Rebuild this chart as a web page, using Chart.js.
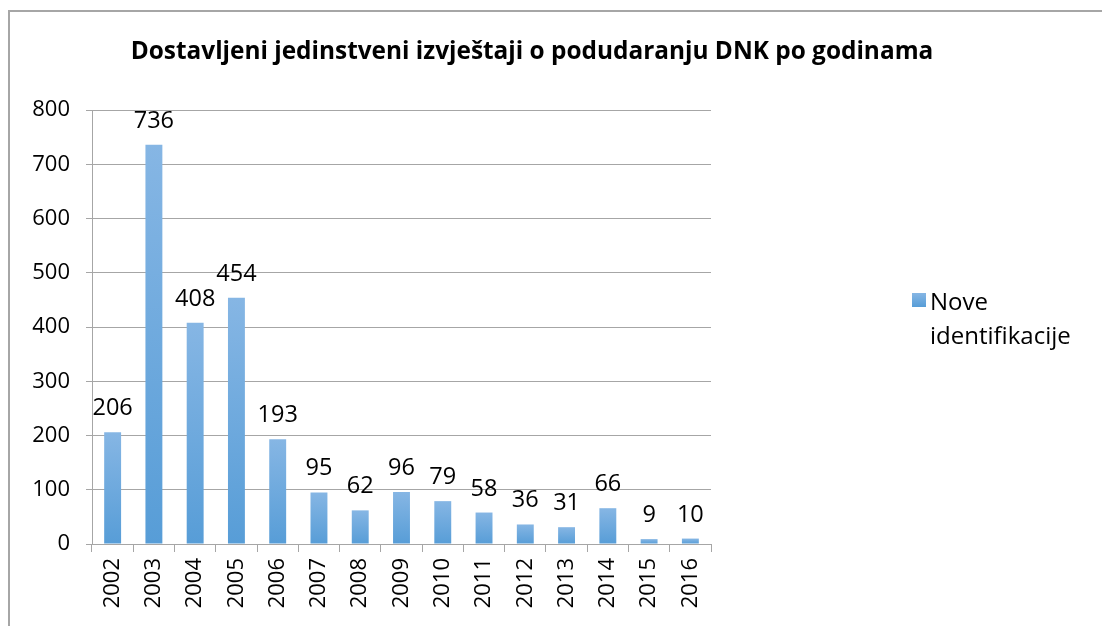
<!DOCTYPE html>
<html>
<head>
<meta charset="utf-8">
<script src="https://cdn.jsdelivr.net/npm/chart.js@4.4.1/dist/chart.umd.min.js"></script>
<style>
  html, body { margin: 0; padding: 0; background: #fff; }
  #wrap { position: relative; width: 1102px; height: 626px; }
</style>
</head>
<body>
<div id="wrap"><canvas id="grafikon" width="1102" height="626"></canvas></div>
<script>
const naslov = "Dostavljeni jedinstveni izvještaji o podudaranju DNK po godinama";
const godine = ["2002", "2003", "2004", "2005", "2006", "2007", "2008", "2009",
  "2010", "2011", "2012", "2013", "2014", "2015", "2016"];
const identifikacije = [206, 736, 408, 454, 193, 95, 62, 96, 79, 58, 36, 31, 66, 9, 10];
const nazivSerije = ["Nove", "identifikacije"];

const FONT = "'Open Sans', Lato, sans-serif";
const SIVA = "#a6a6a6";

function gradijent(ctx, gore, dolje) {
  const g = ctx.createLinearGradient(0, gore, 0, dolje);
  g.addColorStop(0, "#86b6e4");
  g.addColorStop(1, "#579dd7");
  return g;
}

// okvir, naslov, oznake vrijednosti i legenda
const crtanje = {
  id: "crtanje",
  beforeDraw(chart) {
    const ctx = chart.ctx;
    ctx.save();
    ctx.strokeStyle = SIVA;
    ctx.lineWidth = 2;
    ctx.beginPath();
    ctx.moveTo(9, 626);
    ctx.lineTo(9, 11);
    ctx.lineTo(1102, 11);
    ctx.stroke();
    ctx.restore();
  },
  afterDraw(chart) {
    const ctx = chart.ctx;
    ctx.save();
    ctx.fillStyle = "#000";
    ctx.font = "bold 24.4px " + FONT;
    ctx.textAlign = "center";
    ctx.textBaseline = "alphabetic";
    ctx.fillText(naslov, 532, 59);

    ctx.font = "23.5px " + FONT;
    const meta = chart.getDatasetMeta(0);
    meta.data.forEach((bar, i) => {
      ctx.fillText(String(identifikacije[i]), bar.x, bar.y - 17);
    });

    ctx.fillStyle = gradijent(ctx, 293, 307);
    ctx.fillRect(912, 293, 14, 14);
    ctx.fillStyle = "#000";
    ctx.textAlign = "left";
    ctx.font = "24px " + FONT;
    ctx.fillText(nazivSerije[0], 930, 310);
    ctx.fillText(nazivSerije[1], 930, 344);
    ctx.restore();
  }
};

new Chart(document.getElementById("grafikon"), {
  type: "bar",
  data: {
    labels: godine,
    datasets: [{
      label: nazivSerije.join(" "),
      data: identifikacije,
      backgroundColor(c) {
        const chart = c.chart;
        if (!chart.chartArea || !chart.scales.y) return "#6aa8dd";
        const y = chart.scales.y;
        const v = identifikacije[c.dataIndex] || 0;
        return gradijent(chart.ctx, y.getPixelForValue(v), y.getPixelForValue(0));
      },
      borderWidth: 0,
      categoryPercentage: 1,
      barPercentage: 0.41
    }]
  },
  options: {
    responsive: false,
    animation: false,
    layout: { padding: { top: 110, right: 391, left: 0, bottom: 0 } },
    plugins: {
      legend: { display: false },
      title: { display: false },
      tooltip: { enabled: false }
    },
    scales: {
      x: {
        offset: true,
        grid: {
          offset: true,
          drawOnChartArea: false,
          drawTicks: true,
          tickLength: 8,
          color: SIVA
        },
        border: { color: SIVA },
        ticks: {
          color: "#000",
          font: { family: FONT, size: 22 },
          minRotation: 90,
          maxRotation: 90,
          padding: 6,
          autoSkip: false
        },
        afterFit(scale) { scale.height = 82; }
      },
      y: {
        min: 0,
        max: 800,
        grid: { color: SIVA, tickLength: 6 },
        border: { color: SIVA },
        ticks: {
          stepSize: 100,
          color: "#000",
          font: { family: FONT, size: 22 },
          padding: 16
        },
        afterFit(scale) { scale.width = 92; }
      }
    }
  },
  plugins: [crtanje]
});
</script>
</body>
</html>
